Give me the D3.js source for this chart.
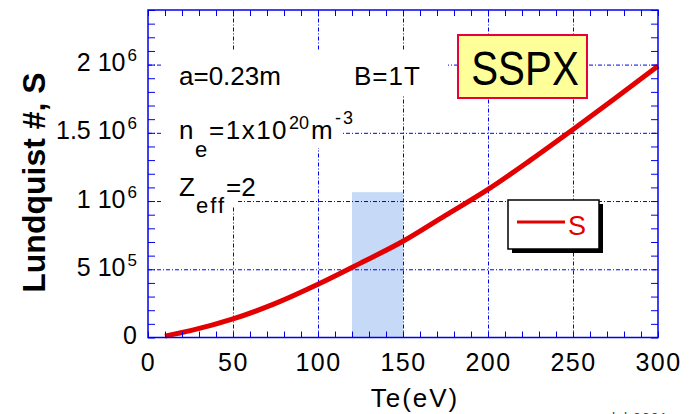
<!DOCTYPE html>
<html>
<head>
<meta charset="utf-8">
<script src="https://cdn.jsdelivr.net/npm/d3@7"></script>
<style>
  body { margin: 0; background: #fff; }
  svg { display: block; font-family: "Liberation Sans", Arial, sans-serif; }
</style>
</head>
<body>
<div class="chart"></div>
<script>
// electron temperature (eV) and Lundquist number
var teValues = [10, 25, 50, 75, 100, 125, 150, 175, 200, 225, 250, 275, 300];
var sValues = [1.0e4, 5.0e4, 1.36e5, 2.5e5, 3.9e5, 5.45e5, 7.05e5, 8.95e5, 1.085e6, 1.3e6, 1.525e6, 1.755e6, 1.99e6];

// shaded Te band
var bandTe = [120, 150];
var bandTop = 1.065e6;

// axis ticks
var xTicks = [0, 50, 100, 150, 200, 250, 300];
var yTicks = [0, 5e5, 1e6, 1.5e6, 2e6];
var yTickBase = ["0", "5 10", "1 10", "1.5 10", "2 10"];
var yTickExp = ["", "5", "6", "6", "6"];

var svgWidth = 690;
var svgHeight = 414;

var margin = { top: 10, right: 32, bottom: 76.5, left: 148 };
var width = svgWidth - margin.left - margin.right;
var height = svgHeight - margin.top - margin.bottom;

var svg = d3.select(".chart")
  .append("svg")
  .attr("width", svgWidth)
  .attr("height", svgHeight);

var chartGroup = svg.append("g")
  .attr("transform", `translate(${margin.left}, ${margin.top})`);

var x_scale = d3.scaleLinear().domain([0, 300]).range([0, width]);
var y_scale = d3.scaleLinear().domain([0, 2.4e6]).range([height, 0]);

var blue = "#0000f0";

// shaded band
chartGroup.append("rect")
  .attr("x", x_scale(bandTe[0]))
  .attr("y", y_scale(bandTop))
  .attr("width", x_scale(bandTe[1]) - x_scale(bandTe[0]))
  .attr("height", y_scale(0) - y_scale(bandTop))
  .attr("fill", "#c6daf8");

// grid lines (dash-dot)
var gridX = chartGroup.append("g")
  .attr("transform", `translate(0, ${height})`)
  .call(d3.axisBottom(x_scale).tickValues(xTicks.slice(1, -1)).tickSize(-height).tickFormat(""));
var gridY = chartGroup.append("g")
  .call(d3.axisLeft(y_scale).tickValues(yTicks.slice(1)).tickSize(-width).tickFormat(""));
[gridX, gridY].forEach(function (g) {
  g.select(".domain").remove();
  g.selectAll("line")
    .attr("stroke", blue)
    .attr("stroke-width", 1)
    .attr("stroke-dasharray", "4,2,1,2");
});

// white boxes behind the annotations hide the grid there
var noteBoxes = [
  [162, 50, 448, 95],
  [162, 95, 343, 148],
  [162, 148, 238, 207]
];
noteBoxes.forEach(function (b) {
  svg.append("rect")
    .attr("x", b[0]).attr("y", b[1])
    .attr("width", b[2] - b[0]).attr("height", b[3] - b[1])
    .attr("fill", "#fff");
});

// curve
var line = d3.line()
  .x((d, i) => x_scale(teValues[i]))
  .y(d => y_scale(d))
  .curve(d3.curveMonotoneX);

chartGroup.append("path")
  .datum(sValues)
  .attr("d", line)
  .attr("fill", "none")
  .attr("stroke", "#e20000")
  .attr("stroke-width", 5);

// minor ticks, inside on all four sides
var xMinor = d3.range(0, 301, 10);
var yMinor = d3.range(0, 2.41e6, 1e5);
var tickGroups = [
  chartGroup.append("g").attr("transform", `translate(0, ${height})`)
    .call(d3.axisBottom(x_scale).tickValues(xMinor).tickSize(-6).tickFormat("")),
  chartGroup.append("g")
    .call(d3.axisTop(x_scale).tickValues(xMinor).tickSize(-6).tickFormat("")),
  chartGroup.append("g")
    .call(d3.axisLeft(y_scale).tickValues(yMinor).tickSize(-7).tickFormat("")),
  chartGroup.append("g").attr("transform", `translate(${width}, 0)`)
    .call(d3.axisRight(y_scale).tickValues(yMinor).tickSize(-7).tickFormat(""))
];
tickGroups.forEach(function (g) {
  g.select(".domain").remove();
  g.selectAll("line").attr("stroke", blue).attr("stroke-width", 1);
});

// frame
chartGroup.append("rect")
  .attr("width", width).attr("height", height)
  .attr("fill", "none")
  .attr("stroke", blue)
  .attr("stroke-width", 1.5);

// tick labels
var bottomAxis = chartGroup.append("g")
  .attr("transform", `translate(0, ${height})`)
  .call(d3.axisBottom(x_scale).tickValues(xTicks).tickSize(0).tickPadding(16));
bottomAxis.select(".domain").remove();
bottomAxis.selectAll("text")
  .attr("font-size", 25)
  .attr("letter-spacing", 1.5)
  .attr("fill", "#000")
  .attr("font-family", "Liberation Sans, Arial, sans-serif");

var leftAxis = chartGroup.append("g")
  .call(d3.axisLeft(y_scale).tickValues(yTicks).tickSize(0).tickPadding(11));
leftAxis.select(".domain").remove();
leftAxis.selectAll("text")
  .attr("font-size", 25)
  .attr("fill", "#000")
  .attr("font-family", "Liberation Sans, Arial, sans-serif")
  .attr("dy", 6)
  .each(function (d, i) {
    var t = d3.select(this).text("");
    t.append("tspan").text(yTickBase[i]);
    if (yTickExp[i]) {
      t.append("tspan").attr("font-size", 17).attr("dy", -10).attr("dx", 2).text(yTickExp[i]);
    }
  });

// axis titles
svg.append("text")
  .attr("transform", "translate(45, 182.5) rotate(-90)")
  .attr("text-anchor", "middle")
  .attr("font-size", 32)
  .attr("font-weight", "bold")
  .text("Lundquist #, S");

svg.append("text")
  .attr("x", 415)
  .attr("y", 407)
  .attr("text-anchor", "middle")
  .attr("font-size", 26)
  .attr("letter-spacing", 2)
  .text("Te(eV)");

// annotations
svg.append("text").attr("x", 179).attr("y", 85).attr("font-size", 26).text("a=0.23m");
svg.append("text").attr("x", 354).attr("y", 85).attr("font-size", 26).attr("letter-spacing", 1).text("B=1T");

var ne = svg.append("text").attr("font-size", 26);
ne.append("tspan").attr("x", 179).attr("y", 139).text("n");
ne.append("tspan").attr("x", 195).attr("y", 157).attr("font-size", 22).text("e");
ne.append("tspan").attr("x", 209).attr("y", 139).attr("letter-spacing", 1.5).text("=1x10");
ne.append("tspan").attr("x", 289).attr("y", 129).attr("font-size", 18).text("20");
ne.append("tspan").attr("x", 311).attr("y", 139).text("m");
ne.append("tspan").attr("x", 335).attr("y", 124).attr("font-size", 18).attr("letter-spacing", 2).text("-3");

var zeff = svg.append("text").attr("font-size", 26);
zeff.append("tspan").attr("x", 179).attr("y", 196).text("Z");
zeff.append("tspan").attr("x", 196).attr("y", 213).attr("font-size", 22).attr("letter-spacing", 2).text("eff");
zeff.append("tspan").attr("x", 226).attr("y", 196).text("=2");

// SSPX label
svg.append("rect")
  .attr("x", 458).attr("y", 35)
  .attr("width", 129).attr("height", 63)
  .attr("fill", "#ffff99")
  .attr("stroke", "#e8003a")
  .attr("stroke-width", 2);
svg.append("text")
  .attr("transform", "translate(525, 85) scale(0.84, 1)")
  .attr("text-anchor", "middle")
  .attr("font-size", 48)
  .text("SSPX");

// legend
svg.append("rect")
  .attr("x", 512).attr("y", 204)
  .attr("width", 91).attr("height", 49)
  .attr("fill", "#000");
svg.append("rect")
  .attr("x", 508).attr("y", 200)
  .attr("width", 91).attr("height", 49)
  .attr("fill", "#fff")
  .attr("stroke", "#000")
  .attr("stroke-width", 1.5);
svg.append("line")
  .attr("x1", 517).attr("x2", 565)
  .attr("y1", 222).attr("y2", 222)
  .attr("stroke", "#e20000")
  .attr("stroke-width", 3);
svg.append("text")
  .attr("x", 568).attr("y", 235)
  .attr("font-size", 27)
  .attr("fill", "#e20000")
  .text("S");

// credit line, cut off at the bottom edge
svg.append("text")
  .attr("x", 612).attr("y", 423)
  .attr("font-size", 14)
  .attr("fill", "#444")
  .attr("letter-spacing", 1)
  .text("lcl 2001");
</script>
</body>
</html>
